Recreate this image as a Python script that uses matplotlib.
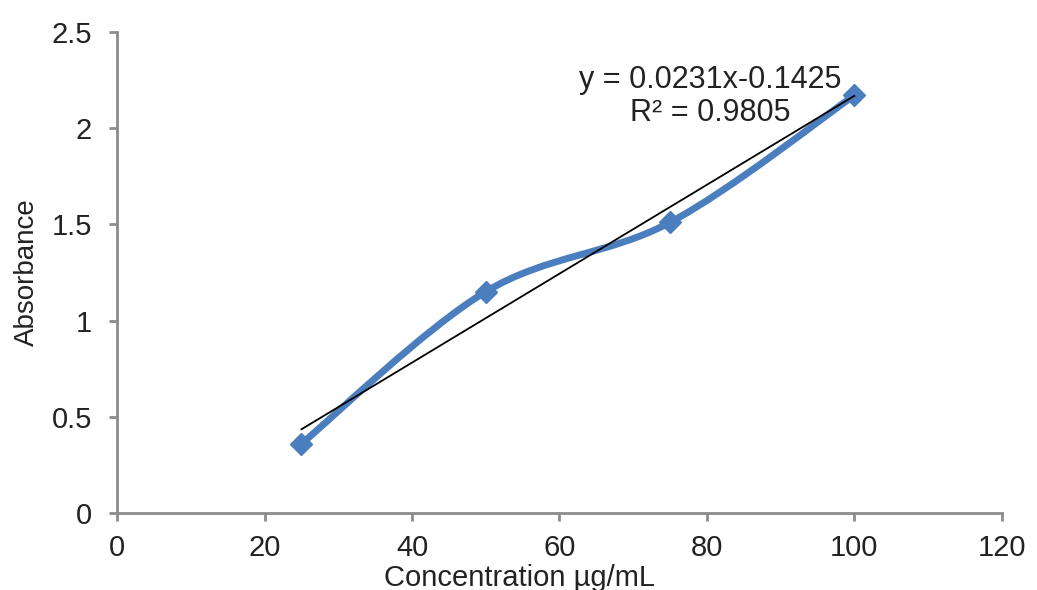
import matplotlib
matplotlib.use("Agg")
import matplotlib.pyplot as plt
from matplotlib.path import Path
from matplotlib.patches import PathPatch

conc = [25, 50, 75, 100]
absorb = [0.36, 1.15, 1.51, 2.17]
slope = 0.0231
intercept = -0.1425
eq_text = "y = 0.0231x-0.1425"
r2_text = "R² = 0.9805"
x_ticks = [0, 20, 40, 60, 80, 100, 120]
y_ticks = [0, 0.5, 1, 1.5, 2, 2.5]
y_tick_labels = ["0", "0.5", "1", "1.5", "2", "2.5"]

plt.rcParams['font.family'] = ['Liberation Sans', 'DejaVu Sans']

blue = '#4a7ebf'
grey = '#8c8c8c'


def smooth_path(xs, ys):
    # catmull-rom style bezier, like excel's smoothed line
    pts = list(zip(xs, ys))
    verts = [pts[0]]
    codes = [Path.MOVETO]
    for i in range(len(pts) - 1):
        p0 = pts[i - 1] if i > 0 else pts[i]
        p1 = pts[i]
        p2 = pts[i + 1]
        p3 = pts[i + 2] if i + 2 < len(pts) else pts[i + 1]
        c1 = (p1[0] + (p2[0] - p0[0]) / 6, p1[1] + (p2[1] - p0[1]) / 6)
        c2 = (p2[0] - (p3[0] - p1[0]) / 6, p2[1] - (p3[1] - p1[1]) / 6)
        verts += [c1, c2, p2]
        codes += [Path.CURVE4] * 3
    return Path(verts, codes)


fig = plt.figure(figsize=(10.37, 5.90), dpi=100)
ax = fig.add_axes([0.113, 0.1305, 0.853, 0.8155])

ax.add_patch(PathPatch(smooth_path(conc, absorb), facecolor='none',
                       edgecolor=blue, lw=5, capstyle='round', zorder=2))
ax.plot(conc, absorb, linestyle='none', marker='D', markersize=11,
        color=blue, zorder=3)

trend_x = [conc[0], conc[-1]]
trend_y = [slope * v + intercept for v in trend_x]
ax.plot(trend_x, trend_y, color='black', lw=1.3, zorder=4)

ax.text(80.5, 2.25, eq_text, fontsize=22, color='#222222', ha='center', va='center')
ax.text(80.5, 2.08, r2_text, fontsize=22, color='#222222', ha='center', va='center')

ax.set_xlim(0, 120)
ax.set_ylim(0, 2.5)
ax.set_xticks(x_ticks)
ax.set_yticks(y_ticks)
ax.set_yticklabels(y_tick_labels)

for side in ['top', 'right']:
    ax.spines[side].set_visible(False)
for side in ['left', 'bottom']:
    ax.spines[side].set_color(grey)
    ax.spines[side].set_linewidth(2)
ax.tick_params(colors=grey, width=2, length=6, labelsize=21, labelcolor='#222222')
ax.tick_params(axis='y', pad=12)
ax.tick_params(axis='x', pad=9)

ax.set_xlabel("Concentration µg/mL", fontsize=21, color='#222222')
ax.xaxis.set_label_coords(0.455, -0.105)
ax.set_ylabel("Absorbance", fontsize=20, color='#222222')
ax.yaxis.set_label_coords(-0.087, 0.5)

fig.savefig("out.png", dpi=100, facecolor='white')
